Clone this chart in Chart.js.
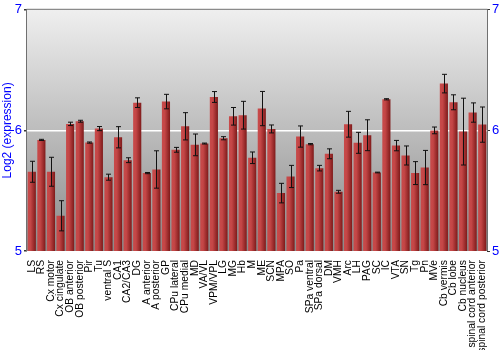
<!DOCTYPE html>
<html>
<head>
<meta charset="utf-8">
<script src="https://cdn.jsdelivr.net/npm/chart.js@4"></script>
<style>
  html, body { margin: 0; padding: 0; background: #fff; }
  #wrap { width: 500px; height: 350px; }
</style>
</head>
<body>
<div id="wrap"><canvas id="regionChart" width="500" height="350"></canvas></div>
<script>
// brain regions
const regions = ['LS', 'RS', 'Cx motor', 'Cx cingulate', 'OB anterior', 'OB posterior', 'Pir', 'Tu',
  'ventral S', 'CA1', 'CA2/CA3', 'DG', 'A anterior', 'A posterior', 'GP', 'CPu lateral', 'CPu medial',
  'MD', 'VA/VL', 'VPM/VPL', 'LG', 'MG', 'Hb', 'M', 'ME', 'SCN', 'MPA', 'SO', 'Pa', 'SPa ventral',
  'SPa dorsal', 'DM', 'VMH', 'Arc', 'LH', 'PAG', 'SC', 'IC', 'VTA', 'SN', 'Tg', 'Pn', 'MVe',
  'Cb vermis', 'Cb lobe', 'Cb nucleus', 'spinal cord anterior', 'spinal cord posterior'];

// log2 expression (mean)
const expression = [5.657, 5.921, 5.657, 5.292, 6.054, 6.076, 5.899, 6.015,
  5.612, 5.943, 5.753, 6.23, 5.646, 5.676, 6.239, 5.839, 6.034,
  5.88, 5.891, 6.277, 5.935, 6.117, 6.126, 5.773, 6.181, 6.012, 5.48, 5.618, 5.949, 5.886,
  5.687, 5.806, 5.491, 6.051, 5.897, 5.96, 5.651, 6.258, 5.874, 5.792, 5.646, 5.692, 6.0,
  6.388, 6.233, 5.99, 6.148, 6.048];

// error (+/-)
const errors = [0.087, 0.005, 0.12, 0.125, 0.014, 0.008, 0.005, 0.017,
  0.025, 0.088, 0.02, 0.04, 0.005, 0.155, 0.06, 0.02, 0.113,
  0.09, 0.004, 0.045, 0.013, 0.073, 0.115, 0.048, 0.142, 0.033, 0.081, 0.092, 0.088, 0.005,
  0.023, 0.041, 0.012, 0.107, 0.087, 0.128, 0.003, 0.005, 0.043, 0.079, 0.095, 0.142, 0.028,
  0.077, 0.062, 0.277, 0.08, 0.146];

const yTicks = [5, 6, 7];

const BAR_PCT = 0.85;

// gray gradient behind plot + frame
const plotBackground = {
  id: 'plotBackground',
  beforeDraw(chart) {
    const { ctx, chartArea: a } = chart;
    const g = ctx.createLinearGradient(0, a.top, 0, a.bottom);
    g.addColorStop(0, '#efefef');
    g.addColorStop(1, '#8a8a8a');
    ctx.save();
    ctx.fillStyle = g;
    ctx.fillRect(a.left, a.top, a.right - a.left, a.bottom - a.top);
    ctx.restore();
  },
  afterDraw(chart) {
    const { ctx, chartArea: a } = chart;
    ctx.save();
    ctx.strokeStyle = '#707070';
    ctx.lineWidth = 1;
    ctx.beginPath();
    ctx.moveTo(a.left - 0.5, a.bottom);
    ctx.lineTo(a.left - 0.5, a.top - 0.5);
    ctx.lineTo(a.right + 0.5, a.top - 0.5);
    ctx.lineTo(a.right + 0.5, a.bottom);
    ctx.stroke();
    ctx.restore();
  }
};

// error bars
const errorBars = {
  id: 'errorBars',
  afterDatasetsDraw(chart) {
    const { ctx } = chart;
    const x = chart.scales.x, y = chart.scales.y;
    ctx.save();
    ctx.strokeStyle = '#111';
    ctx.lineWidth = 1;
    expression.forEach((v, i) => {
      const px = Math.round(x.getPixelForValue(i)) + 0.5;
      const hi = y.getPixelForValue(v + errors[i]);
      const lo = y.getPixelForValue(v - errors[i]);
      ctx.beginPath();
      ctx.moveTo(px, hi); ctx.lineTo(px, lo);
      ctx.moveTo(px - 2.5, hi); ctx.lineTo(px + 2.5, hi);
      ctx.moveTo(px - 2.5, lo); ctx.lineTo(px + 2.5, lo);
      ctx.stroke();
    });
    ctx.restore();
  }
};

function barFill(context) {
  const chart = context.chart;
  const xs = chart.scales.x;
  if (!chart.chartArea || !xs) return '#b03030';
  const cx = xs.getPixelForValue(context.dataIndex);
  const w = (xs.width / regions.length) * BAR_PCT;
  const g = chart.ctx.createLinearGradient(cx - w / 2, 0, cx + w / 2, 0);
  g.addColorStop(0, '#c84a4a');
  g.addColorStop(0.35, '#c44646');
  g.addColorStop(1, '#7e1a1a');
  return g;
}

const ctx = document.getElementById('regionChart').getContext('2d');
new Chart(ctx, {
  type: 'bar',
  data: {
    labels: regions,
    datasets: [{
      label: 'Log2 (expression)',
      data: expression,
      backgroundColor: barFill,
      borderWidth: 0,
      barPercentage: BAR_PCT,
      categoryPercentage: 1.0
    }]
  },
  options: {
    responsive: false,
    animation: false,
    layout: { padding: { top: 9, right: 0, left: 0, bottom: 0 } },
    plugins: {
      legend: { display: false },
      tooltip: { enabled: false }
    },
    scales: {
      x: {
        afterFit(axis) { axis.height = 99; },
        grid: { display: false },
        border: { display: false },
        ticks: {
          autoSkip: false,
          maxRotation: 90,
          minRotation: 90,
          padding: 1,
          color: '#000',
          font: { family: 'Liberation Sans, Arial, sans-serif', size: 10.3 }
        }
      },
      y: {
        min: 5,
        max: 7,
        afterFit(axis) { axis.width = 27; },
        afterBuildTicks(axis) { axis.ticks = yTicks.map(v => ({ value: v })); },
        grid: {
          color: ctx => (ctx.tick && ctx.tick.value === 6 ? '#ffffff' : 'rgba(0,0,0,0)'),
          lineWidth: 1.5,
          drawTicks: true,
          tickColor: '#333',
          tickLength: 3
        },
        border: { display: false },
        ticks: {
          color: '#0000ff',
          padding: 2,
          font: { family: 'Liberation Sans, Arial, sans-serif', size: 13 }
        },
        title: {
          display: true,
          text: 'Log2 (expression)',
          color: '#0000ff',
          padding: { top: 0, bottom: 0 },
          font: { family: 'Liberation Sans, Arial, sans-serif', size: 12 }
        }
      },
      y2: {
        position: 'right',
        min: 5,
        max: 7,
        afterFit(axis) { axis.width = 13; },
        afterBuildTicks(axis) { axis.ticks = yTicks.map(v => ({ value: v })); },
        grid: { display: true, drawOnChartArea: false, tickColor: '#333', tickLength: 3 },
        border: { display: false },
        ticks: {
          color: '#0000ff',
          padding: 2,
          font: { family: 'Liberation Sans, Arial, sans-serif', size: 13 }
        }
      }
    }
  },
  plugins: [plotBackground, errorBars]
});
</script>
</body>
</html>
